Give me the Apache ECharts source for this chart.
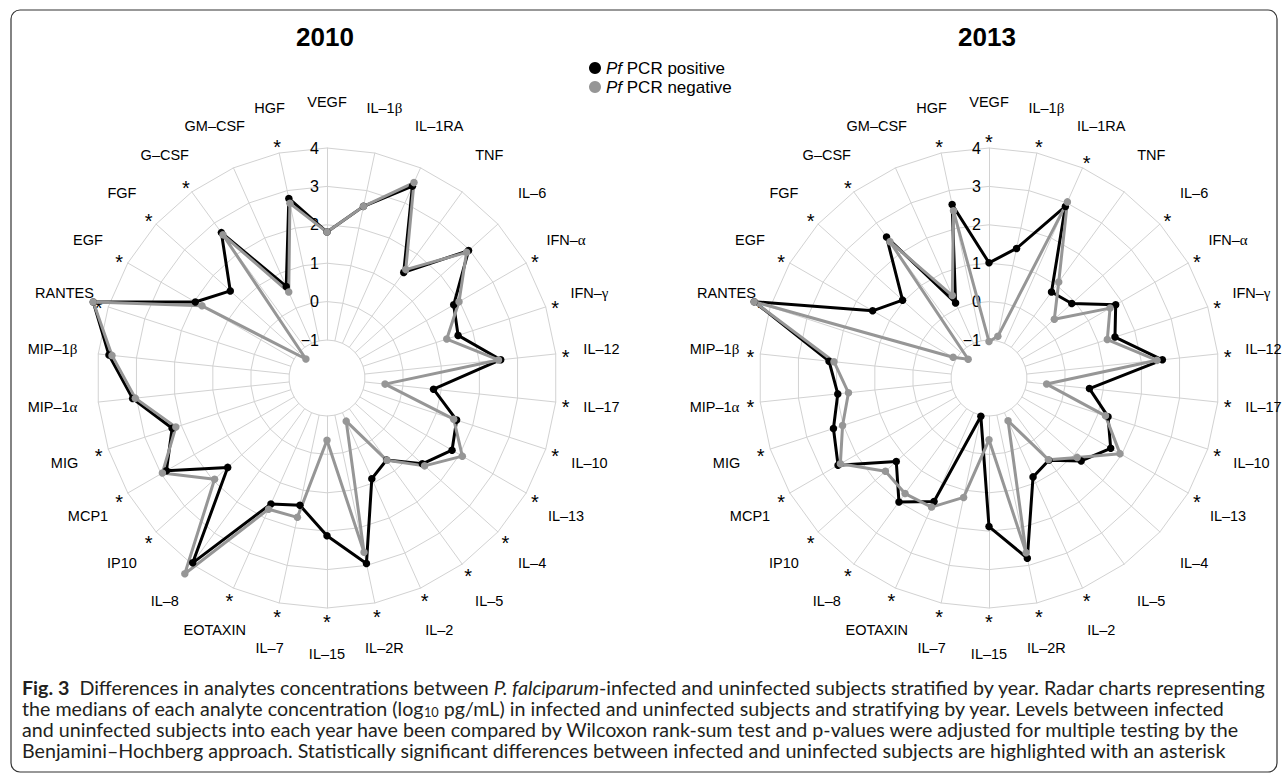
<!DOCTYPE html>
<html>
<head>
<meta charset="utf-8">
<script src="https://cdn.jsdelivr.net/npm/echarts@6/dist/echarts.min.js"></script>
<style>
  html, body { margin: 0; padding: 0; background: #ffffff; }
  #chart { width: 1287px; height: 782px; }
</style>
</head>
<body>
<div id="chart"></div>
<script>
// Analytes, listed clockwise starting from the top spoke
const analytes = ['VEGF', 'IL–1β', 'IL–1RA', 'TNF', 'IL–6', 'IFN–α', 'IFN–γ', 'IL–12', 'IL–17', 'IL–10',
  'IL–13', 'IL–4', 'IL–5', 'IL–2', 'IL–2R', 'IL–15', 'IL–7', 'EOTAXIN', 'IL–8', 'IP10',
  'MCP1', 'MIG', 'MIP–1α', 'MIP–1β', 'RANTES', 'EGF', 'FGF', 'G–CSF', 'GM–CSF', 'HGF'];

// Median log10 pg/mL, same order as analytes
const positive2010 = [1.81, 2.58, 3.48, 1.41, 2.97, 1.82, 1.60, 2.56, 0.80, 1.56,
  1.77, 1.35, 0.65, 0.88, 2.95, 2.12, 1.40, 1.60, 3.96, 1.49,
  2.84, 2.25, 3.10, 3.72, 4.41, 1.97, 1.40, 2.69, 0.62, 2.79];
const negative2010 = [1.81, 2.58, 3.58, 1.50, 2.90, 1.98, 1.29, 2.50, -0.47, 1.48,
  2.08, 1.43, 0.66, -0.76, 2.65, -0.37, 1.72, 1.75, 4.31, 1.95,
  2.96, 2.15, 3.03, 3.64, 4.41, 1.77, -1.25, 2.62, 0.46, 2.66];
const positive2013 = [1.01, 1.46, 2.90, 0.78, 0.91, 1.82, 1.46, 2.55, 0.64, 1.27,
  1.67, 1.24, 0.66, 0.83, 2.81, 1.88, -0.97, 1.53, 2.00, 1.26,
  2.55, 2.27, 1.97, 2.20, 4.44, 1.51, 1.04, 2.55, 0.15, 2.63];
const negative2013 = [-1.04, -0.88, 3.03, 1.10, 0.30, 1.65, 1.25, 2.41, -0.48, 1.20,
  1.95, 1.10, 0.64, -0.77, 2.66, -0.38, 1.19, 1.69, 1.73, 1.64,
  2.48, 2.02, 1.69, 2.07, 4.44, -0.91, -1.26, 2.40, 0.36, 2.46];

// 1 = significant difference (asterisk), same order as analytes
const significant2010 = [0, 0, 0, 0, 0, 1, 1, 1, 1, 1, 1, 1, 1, 1, 1, 1, 1, 1, 0, 1,
  1, 1, 0, 0, 1, 1, 1, 1, 0, 1];
const significant2013 = [1, 1, 1, 0, 1, 1, 1, 1, 1, 1, 1, 0, 0, 1, 1, 1, 1, 1, 1, 1,
  1, 1, 1, 1, 1, 1, 1, 1, 0, 1];

const years = ['2010', '2013'];
const seriesNames = ['Pf PCR positive', 'Pf PCR negative'];
const axisMin = -1, axisMax = 4;

const captionLines = [
  '{b|Fig. 3}  Differences in analytes concentrations between {i|P. falciparum}-infected and uninfected subjects stratified by year. Radar charts representing',
  'the medians of each analyte concentration (log{sub|10} pg/mL) in infected and uninfected subjects and stratifying by year. Levels between infected',
  'and uninfected subjects into each year have been compared by Wilcoxon rank-sum test and p-values were adjusted for multiple testing by the',
  'Benjamini–Hochberg approach. Statistically significant differences between infected and uninfected subjects are highlighted with an asterisk'
];

// ---- layout ----
const FONT = 'Liberation Sans, Arial, sans-serif';
const centers = [[327, 378], [989, 378]];
const R0 = 38, R1 = 230;          // radius of the -1 ring and of the 4 ring
const NAME_R = 276, STAR_R = 240;
const BLACK = '#000000', GREY = '#969696', GRID = '#d2d2d2';

// ECharts lays indicators out counter-clockwise; feed them reversed so they run clockwise
const order = analytes.map((_, k) => (analytes.length - k) % analytes.length);
const toRadar = arr => order.map(i => arr[i]);

function radarOption(c) {
  return {
    center: c,
    radius: [R0, R1],
    startAngle: 90,
    shape: 'polygon',
    splitNumber: 5,
    indicator: order.map((i, j) => {
      const ind = { name: analytes[i], min: axisMin, max: axisMax };
      if (j === 0) {
        ind.axisLabel = {
          show: true, color: '#000', fontSize: 16, fontFamily: FONT, margin: 8,
          formatter: v => (v < 0 ? '−' + Math.abs(v) : String(v))
        };
      }
      return ind;
    }),
    axisName: { show: false },
    splitLine: { lineStyle: { color: GRID, width: 1 } },
    splitArea: { show: false },
    axisLine: { lineStyle: { color: GRID, width: 1 } },
    axisTick: { show: false },
    axisLabel: { show: false }
  };
}

function polarXY(c, deg, r) {
  const a = deg * Math.PI / 180;
  return [c[0] + r * Math.sin(a), c[1] - r * Math.cos(a)];
}

const nameRich = {
  g: { fontFamily: 'Liberation Serif, DejaVu Serif, serif', fontSize: 15, fill: '#000' }
};

function labelElements(c, sig) {
  const els = [];
  const step = 360 / analytes.length;
  analytes.forEach((name, i) => {
    const p = polarXY(c, i * step, NAME_R);
    els.push({
      type: 'text', x: p[0], y: p[1], silent: true,
      style: {
        text: name.replace(/([αβγ])/g, '{g|$1}'), fill: '#000', fontSize: 14.5, fontFamily: FONT,
        align: 'center', verticalAlign: 'middle', rich: nameRich
      }
    });
    if (sig[i]) {
      const s = polarXY(c, i * step, STAR_R);
      els.push({
        type: 'text', x: s[0], y: s[1] + 4, silent: true,
        style: { text: '*', fill: '#000', fontSize: 20, fontFamily: FONT, align: 'center', verticalAlign: 'middle' }
      });
    }
  });
  return els;
}

// caption: one font size, chosen so the first line reaches the right margin
const CAP_FONT = 'Lato, Open Sans, sans-serif';
const CAP_LEFT = 22, CAP_RIGHT = 1266;
function richWidth(line, size) {
  const ctx = document.createElement('canvas').getContext('2d');
  let w = 0;
  const re = /\{(\w+)\|([^}]*)\}|([^{]+)/g;
  let m;
  while ((m = re.exec(line)) !== null) {
    let style = '', sz = size, txt = m[3];
    if (m[1]) {
      txt = m[2];
      if (m[1] === 'b') style = 'bold ';
      if (m[1] === 'i') style = 'italic ';
      if (m[1] === 'sub') sz = size * 0.65;
    }
    ctx.font = style + sz + 'px ' + CAP_FONT;
    w += ctx.measureText(txt).width;
  }
  return w;
}
const capSize = Math.round(16 * (CAP_RIGHT - CAP_LEFT) / richWidth(captionLines[0], 16) * 100) / 100;

const graphics = [];
// figure frame
graphics.push({
  type: 'rect', silent: true, z: -10,
  shape: { x: 11, y: 10, width: 1266, height: 762, r: 9 },
  style: { fill: 'none', stroke: '#333333', lineWidth: 1.2 }
});
// year titles
years.forEach((y, k) => {
  graphics.push({
    type: 'text', x: centers[k][0] - 2, y: 37, silent: true,
    style: { text: y, fill: '#000', fontSize: 26, fontWeight: 'bold', fontFamily: FONT, align: 'center', verticalAlign: 'middle' }
  });
});
graphics.push(...labelElements(centers[0], significant2010));
graphics.push(...labelElements(centers[1], significant2013));

captionLines.forEach((line, k) => {
  graphics.push({
    type: 'text', x: CAP_LEFT, y: 687 + k * 21, silent: true,
    style: {
      text: line, fill: '#231f20', fontSize: capSize, fontFamily: CAP_FONT, align: 'left', verticalAlign: 'middle',
      rich: {
        b: { fontWeight: 'bold', fontSize: capSize, fontFamily: CAP_FONT, fill: '#231f20' },
        i: { fontStyle: 'italic', fontSize: capSize, fontFamily: CAP_FONT, fill: '#231f20' },
        sub: { fontSize: capSize * 0.65, fontFamily: CAP_FONT, fill: '#231f20', verticalAlign: 'bottom', padding: [6, 0, 0, 0] }
      }
    }
  });
});

function series(radarIndex, name, values, color) {
  return {
    type: 'radar', radarIndex: radarIndex, name: name,
    symbol: 'circle', symbolSize: 7.5,
    lineStyle: { color: color, width: 3 },
    itemStyle: { color: color },
    emphasis: { disabled: true },
    data: [{ value: toRadar(values), name: name }]
  };
}

const chart = echarts.init(document.getElementById('chart'), null, { renderer: 'svg' });
chart.setOption({
  animation: false,
  backgroundColor: '#ffffff',
  textStyle: { fontFamily: FONT },
  legend: {
    data: seriesNames,
    orient: 'vertical', left: 584, top: 54,
    icon: 'circle', itemWidth: 12, itemHeight: 12, itemGap: 1, itemTextGap: 8,
    selectedMode: false,
    formatter: n => n.replace('Pf', '{i|Pf}'),
    textStyle: {
      fontSize: 17, color: '#000', fontFamily: FONT, lineHeight: 18,
      rich: { i: { fontStyle: 'italic', fontSize: 17, fontFamily: FONT, color: '#000', lineHeight: 18 } }
    }
  },
  radar: [radarOption(centers[0]), radarOption(centers[1])],
  series: [
    series(0, seriesNames[0], positive2010, BLACK),
    series(0, seriesNames[1], negative2010, GREY),
    series(1, seriesNames[0], positive2013, BLACK),
    series(1, seriesNames[1], negative2013, GREY)
  ],
  graphic: graphics
});
</script>
</body>
</html>
